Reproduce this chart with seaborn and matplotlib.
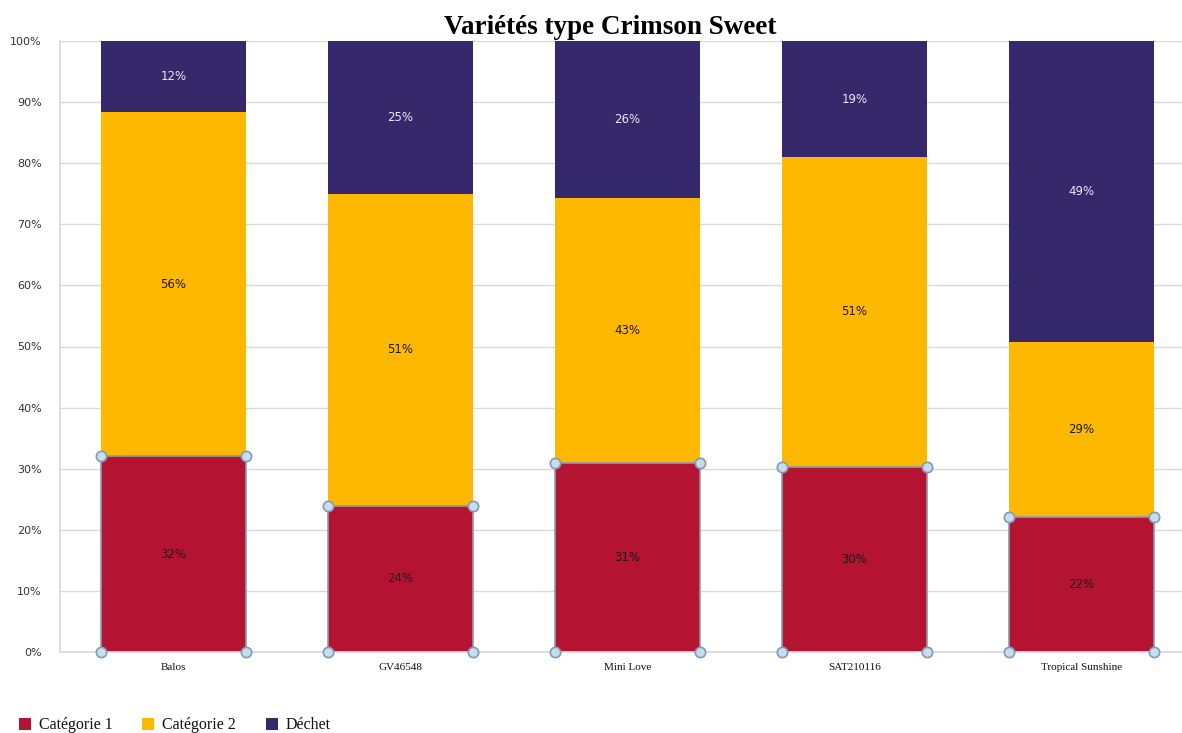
import matplotlib
matplotlib.use("Agg")
import matplotlib.pyplot as plt
from matplotlib.patches import Patch
from matplotlib.ticker import FuncFormatter
import seaborn as sns
import pandas as pd
import numpy as np

categories = ["Balos", "GV46548", "Mini Love", "SAT210116", "Tropical Sunshine"]
cat1 = [32.0, 23.9, 30.9, 30.3, 22.1]
cat2 = [56.4, 51.1, 43.4, 50.7, 28.6]
dechet = [11.6, 25.0, 25.7, 19.0, 49.3]
series_names = ["Catégorie 1", "Catégorie 2", "Déchet"]
colors = ["#B41332", "#FFB800", "#35286B"]
title = "Variétés type Crimson Sweet"

sns.set_theme(style="white")
plt.rcParams["font.family"] = ["DejaVu Sans"]

fig = plt.figure(figsize=(11.82, 7.33), dpi=100)
ax = fig.add_axes([60/1182, 81/733, 1135/1182, 611/733])

c1 = np.array(cat1)
c2 = np.array(cat2)
d = np.array(dechet)
tot12 = c1 + c2
tot = tot12 + d

df = pd.DataFrame({"cat": categories, "tot": tot, "tot12": tot12, "c1": c1})
W = 0.643
sns.barplot(data=df, x="cat", y="tot", color=colors[2], width=W, ax=ax,
            saturation=1, linewidth=0, order=categories)
sns.barplot(data=df, x="cat", y="tot12", color=colors[1], width=W, ax=ax,
            saturation=1, linewidth=0, order=categories)
sns.barplot(data=df, x="cat", y="c1", color=colors[0], width=W, ax=ax,
            saturation=1, linewidth=1.2, edgecolor="#8E9BA8", order=categories)

ax.set_xlim(-0.5, 4.5)
ax.set_ylim(0, 100)
ax.set_yticks(np.arange(0, 101, 10))
ax.yaxis.set_major_formatter(FuncFormatter(lambda v, p: f"{int(v)}%"))
ax.grid(axis="y", color="#D9D9D9", linewidth=1)
ax.set_axisbelow(True)
ax.set_xlabel("")
ax.set_ylabel("")
for s in ["top", "right"]:
    ax.spines[s].set_visible(False)
ax.spines["left"].set_color("#D9D9D9")
ax.spines["bottom"].set_color("#D9D9D9")
ax.tick_params(axis="y", length=0, pad=13, labelsize=8, labelcolor="#333333")
ax.tick_params(axis="x", length=0, pad=8, labelsize=8, labelcolor="#111111")
for lab in ax.get_xticklabels():
    lab.set_fontfamily(["Liberation Serif", "DejaVu Serif"])

# value labels
for i in range(len(categories)):
    ax.text(i, c1[i] / 2, f"{round(c1[i]):.0f}%", ha="center", va="center",
            fontsize=8.5, color="#1a1a1a")
    ax.text(i, c1[i] + c2[i] / 2, f"{round(c2[i]):.0f}%", ha="center", va="center",
            fontsize=8.5, color="#1a1a1a")
    ax.text(i, tot12[i] + d[i] / 2, f"{round(d[i]):.0f}%", ha="center", va="center",
            fontsize=8.5, color="#E8E8F0")

# selection handles on category 1 bars
xs, ys = [], []
for i in range(len(categories)):
    for dx in (-W / 2, W / 2):
        xs += [i + dx, i + dx]
        ys += [0, c1[i]]
ax.scatter(xs, ys, s=55, facecolor="#C9DCEB", edgecolor="#7D9BB5",
           linewidth=1.2, zorder=10, clip_on=False)

fig.text(610/1182, 1 - 28/733, title, ha="center", va="center", color="black",
         fontsize=19.5, fontweight="bold", family=["Liberation Serif", "DejaVu Serif"])

handles = [Patch(facecolor=c, edgecolor="none") for c in colors]
leg = fig.legend(handles, series_names, loc="lower left", bbox_to_anchor=(0.004, -0.02),
                 ncol=3, frameon=False, handlelength=0.75, handleheight=0.75,
                 handletextpad=0.5, columnspacing=1.85,
                 prop={"family": ["Liberation Serif", "DejaVu Serif"], "size": 11.5})
for t in leg.get_texts():
    t.set_color("#111111")

fig.savefig("out.png", dpi=100)
